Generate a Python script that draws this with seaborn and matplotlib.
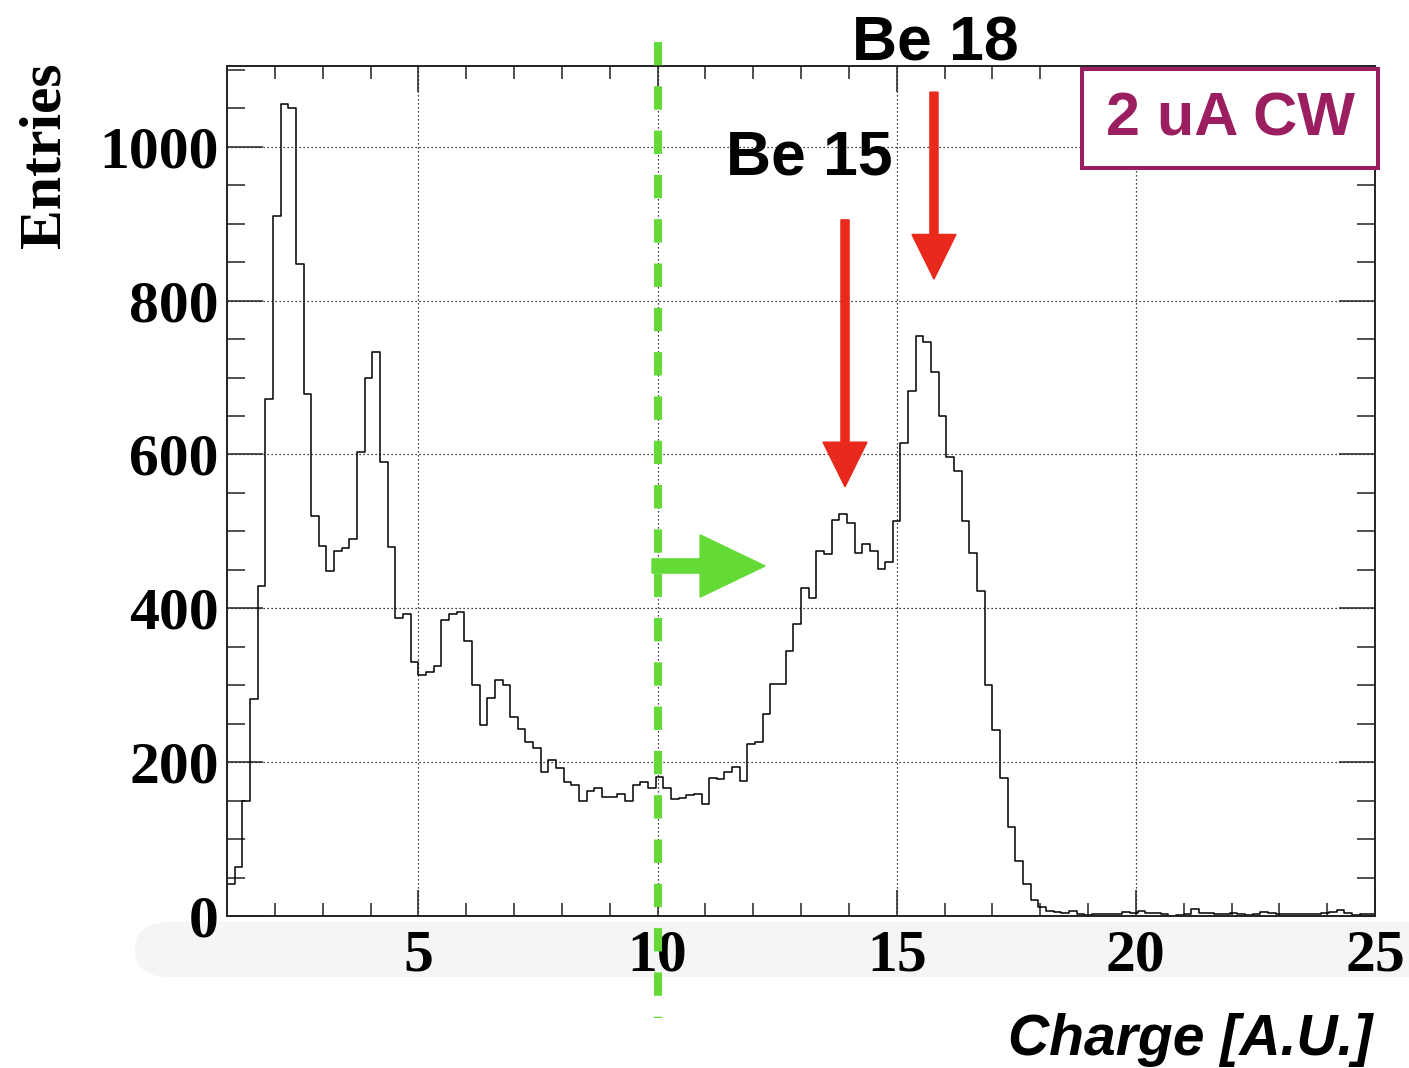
import numpy as np
import pandas as pd
import matplotlib
matplotlib.use("Agg")
import matplotlib.pyplot as plt
import matplotlib.patches as mpatches
import matplotlib.transforms as mtransforms
import seaborn as sns

# ---------------- data ----------------
x_min, x_max, n_bins = 1.0, 25.0, 150
counts = [
    42, 64, 149, 282, 429, 672, 910, 1055, 1051, 847,
    679, 520, 481, 448, 475, 478, 490, 603, 699, 733,
    590, 480, 387, 393, 330, 313, 317, 325, 385, 392,
    395, 357, 300, 248, 284, 307, 300, 259, 243, 226,
    218, 187, 203, 192, 174, 170, 150, 163, 166, 155,
    155, 158, 150, 170, 174, 166, 181, 167, 152, 153,
    157, 159, 145, 180, 178, 187, 194, 175, 224, 226,
    263, 302, 302, 344, 380, 427, 413, 474, 470, 515,
    522, 511, 472, 484, 474, 451, 460, 513, 615, 683,
    754, 746, 707, 650, 597, 578, 513, 472, 423, 300,
    242, 179, 116, 72, 42, 21, 12, 7, 5, 4,
    7, 3, 1, 3, 3, 3, 3, 5, 4, 7,
    4, 4, 2, 0, 1, 3, 9, 4, 4, 2,
    3, 4, 2, 1, 3, 5, 4, 3, 3, 3,
    2, 3, 3, 4, 5, 8, 4, 1, 3, 3,
]
x_ticks = [5, 10, 15, 20, 25]
y_ticks = [0, 200, 400, 600, 800, 1000]
cut_value = 10.0
peak_labels = ["Be 15", "Be 18"]
peak_positions = [13.92, 15.78]
box_text = "2 uA CW"
x_label = "Charge [A.U.]"
y_label = "Entries"

edges = np.linspace(x_min, x_max, n_bins + 1)
centers = 0.5 * (edges[:-1] + edges[1:])
df = pd.DataFrame({"charge": centers, "entries": np.array(counts, dtype=float)})

# ---------------- style ----------------
sns.set_style("ticks")
plt.rcParams["font.family"] = ["Liberation Sans", "DejaVu Sans"]
plt.rcParams["text.color"] = "black"
plt.rcParams["xtick.color"] = "black"
plt.rcParams["ytick.color"] = "black"
plt.rcParams["axes.labelcolor"] = "black"

W, H = 1409, 1068
fig = plt.figure(figsize=(W / 100, H / 100), dpi=100)
fig.patch.set_facecolor("white")

def fx(px):
    return px / W

def fy(py):
    return 1 - py / H

# faint grey band behind x tick labels (screenshot artefact)
band = mpatches.FancyBboxPatch((fx(135), fy(977)), fx(1409) - fx(135) + 0.02, fy(922) - fy(977),
                               boxstyle="round,pad=0,rounding_size=0.025",
                               transform=fig.transFigure, facecolor="#f5f5f5",
                               edgecolor="none", zorder=-5)
fig.patches.append(band)

ax = fig.add_axes([fx(227), fy(916), fx(1375) - fx(227), fy(66) - fy(916)])
ax.set_zorder(2)
ax.set_facecolor("white")

sns.histplot(data=df, x="charge", weights="entries", bins=n_bins, binrange=(x_min, x_max),
             element="step", fill=False, color="black", linewidth=1.1, ax=ax)

ax.set_xlim(x_min, x_max)
ax.set_ylim(0, 1105)
ax.set_xlabel("")
ax.set_ylabel("")

ax.set_xticks(x_ticks)
ax.set_xticks(np.arange(2, 25, 1), minor=True)
ax.set_yticks(y_ticks)
ax.set_yticks(np.arange(0, 1101, 50), minor=True)

tick_font = {"family": "Liberation Serif", "weight": "bold", "size": 43}
ax.set_xticklabels([str(t) for t in x_ticks], fontdict=tick_font)
ax.set_yticklabels([str(t) for t in y_ticks], fontdict=tick_font)

ax.tick_params(axis="both", which="both", direction="in", top=True, right=True,
               width=1.1, color="#222222", labelcolor="black")
ax.tick_params(axis="x", which="major", length=18.5, pad=10)
ax.tick_params(axis="x", which="minor", length=9.3)
ax.tick_params(axis="y", which="major", length=26, pad=6)
ax.tick_params(axis="y", which="minor", length=13)

for sp in ax.spines.values():
    sp.set_linewidth(1.4)
    sp.set_color("#222222")
    sp.set_visible(True)

ax.grid(True, which="major", linestyle=(0, (1, 2.2)), color="black", linewidth=0.9)
ax.set_axisbelow(True)

# green dashed cut line (extends beyond the frame)
trans = mtransforms.blended_transform_factory(ax.transData, ax.transAxes)
ax.plot([cut_value, cut_value], [(916 - 42) / 850, (916 - 1018) / 850], transform=trans,
        color="#63da36", linewidth=5.8, linestyle=(0, (2.9, 2.6)), clip_on=False, zorder=5)

# green horizontal arrow
ax.arrow(9.886, 455, 12.25 - 9.886, 0, width=18.5, head_width=81, head_length=1.36,
         length_includes_head=True, color="#63da36", zorder=6, clip_on=False)

# red vertical arrows
red = "#e8291c"
ax.arrow(peak_positions[0], 905, 0, 558 - 905, width=0.17, head_width=0.92, head_length=58,
         length_includes_head=True, color=red, zorder=6, clip_on=False)
ax.arrow(peak_positions[1], 1071, 0, 828 - 1071, width=0.17, head_width=0.92, head_length=58,
         length_includes_head=True, color=red, zorder=6, clip_on=False)

lab_font = dict(family=["Liberation Sans", "DejaVu Sans"], weight="bold", size=45, color="black")
fig.text(fx(809), fy(158), peak_labels[0], ha="center", va="center", zorder=20, **lab_font)
fig.text(fx(935), fy(44), peak_labels[1], ha="center", va="center", zorder=20, **lab_font)

# purple box label
purple = "#9b1f60"
rect = mpatches.Rectangle((fx(1082), fy(168)), fx(1378) - fx(1082), fy(69) - fy(168),
                          transform=fig.transFigure, facecolor="white", edgecolor=purple,
                          linewidth=2.9, zorder=10)
fig.patches.append(rect)
fig.text(fx(1230), fy(120), box_text, ha="center", va="center", color=purple,
         family=["Liberation Sans", "DejaVu Sans"], weight="bold", size=44, zorder=11)

# axis titles
fig.text(fx(1372), fy(1040), x_label, ha="right", va="center", color="black",
         family=["Liberation Sans", "DejaVu Sans"], weight="bold", style="italic", size=41)
fig.text(fx(46), fy(155), y_label, ha="center", va="center", rotation=90, color="black",
         family=["Liberation Serif", "DejaVu Serif"], weight="bold", size=43)

fig.savefig("out.png", dpi=100, facecolor="white")
